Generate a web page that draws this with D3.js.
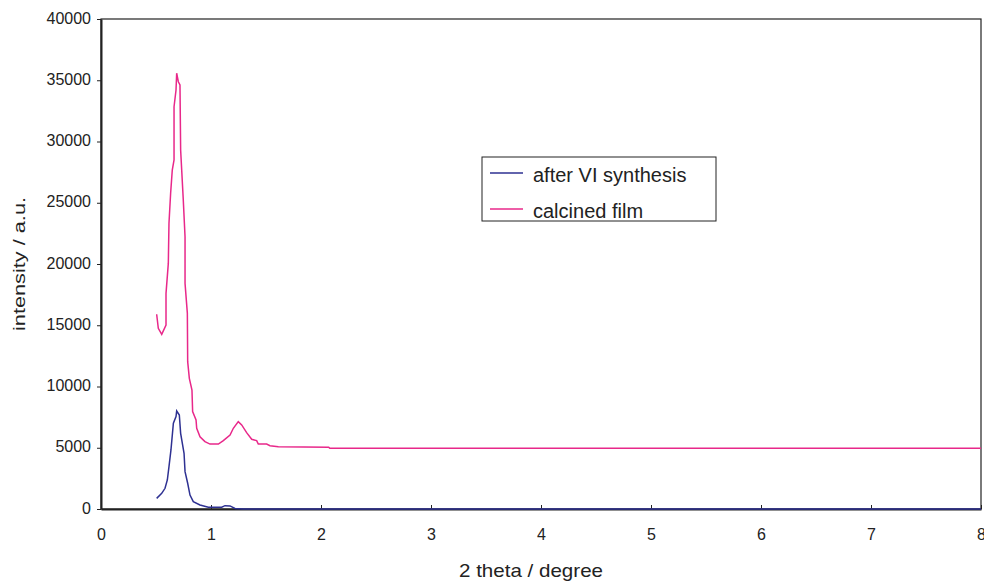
<!DOCTYPE html>
<html>
<head>
<meta charset="utf-8">
<script src="https://cdn.jsdelivr.net/npm/d3@7"></script>
<style>
  body { margin: 0; background: #fff; }
  svg text { font-family: "Liberation Sans", Arial, sans-serif; fill: #222; }
</style>
</head>
<body>
<div class="playground"></div>
<script>
// series (2 theta in degrees, intensity in a.u.)
var afterX = [0.506, 0.552, 0.582, 0.603, 0.618, 0.636, 0.658, 0.682, 0.688, 0.712, 0.724, 0.755, 0.764, 0.788, 0.809, 0.839, 0.9, 0.976, 1.097, 1.127, 1.173, 1.218, 1.3, 8];
var afterY = [870, 1280, 1690, 2370, 3460, 4820, 7000, 7540, 8000, 7670, 6180, 4550, 3050, 2100, 1140, 600, 330, 140, 140, 270, 250, 50, 0, 0];

var calcX = [0.506, 0.521, 0.552, 0.591, 0.591, 0.612, 0.618, 0.633, 0.648, 0.664, 0.664, 0.682, 0.688, 0.703, 0.718, 0.724, 0.748, 0.764, 0.764, 0.785, 0.788, 0.803, 0.827, 0.833, 0.864, 0.870, 0.9, 0.945, 0.991, 1.067, 1.112, 1.173, 1.203, 1.248, 1.279, 1.324, 1.37, 1.415, 1.43, 1.506, 1.536, 1.612, 2.07, 2.08, 8];
var calcY = [15900, 14750, 14260, 15020, 17600, 20050, 23320, 25770, 27670, 28490, 32840, 34200, 35570, 34880, 34610, 29310, 25220, 22230, 18420, 15970, 12030, 10670, 9710, 7950, 7270, 6590, 5900, 5500, 5300, 5300, 5580, 6040, 6590, 7130, 6860, 6230, 5690, 5580, 5300, 5300, 5170, 5090, 5050, 4960, 4960];

var seriesNames = ["after VI synthesis", "calcined film"];
var seriesColors = ["#2e3192", "#e8288a"];
var xTicks = [0, 1, 2, 3, 4, 5, 6, 7, 8];
var yTicks = [0, 5000, 10000, 15000, 20000, 25000, 30000, 35000, 40000];

var width = 984, height = 581;
var mLeft = 101, mRight = 981, mTop = 19, mBottom = 509;

var svg = d3.select('.playground').append('svg')
  .attr('width', width).attr('height', height);

var x = d3.scaleLinear().domain([0, 8]).range([mLeft, mRight]);
var y = d3.scaleLinear().domain([0, 40000]).range([mBottom, mTop]);

// frame
svg.append('rect')
  .attr('x', mLeft).attr('y', mTop)
  .attr('width', mRight - mLeft).attr('height', mBottom - mTop)
  .attr('fill', 'none').attr('stroke', '#222').attr('stroke-width', 1.2);

// axes
var xAxis = svg.append('g')
  .attr('transform', 'translate(0,' + mBottom + ')')
  .call(d3.axisBottom(x).tickValues(xTicks).tickSizeInner(-4).tickSizeOuter(0).tickPadding(20));
var yAxis = svg.append('g')
  .attr('transform', 'translate(' + mLeft + ',0)')
  .call(d3.axisLeft(y).tickValues(yTicks).tickFormat(d3.format('d')).tickSizeInner(4).tickSizeOuter(0).tickPadding(6));

[xAxis, yAxis].forEach(function(g){
  g.select('.domain').attr('stroke', '#222').attr('stroke-width', 2);
  g.selectAll('.tick line').attr('stroke', '#222');
  g.selectAll('.tick text').attr('font-size', 16).style('fill', '#222')
    .attr('font-family', '"Liberation Sans", Arial, sans-serif');
});
yAxis.selectAll('.tick text').attr('dy', '0.25em');

// curves
var line = d3.line().x(function(d){ return x(d[0]); }).y(function(d){ return y(d[1]); });
var series = [d3.zip(afterX, afterY), d3.zip(calcX, calcY)];

svg.selectAll('path.curve')
  .data(series)
  .enter()
  .append('path')
  .attr('class', 'curve')
  .attr('d', line)
  .attr('fill', 'none')
  .attr('stroke', function(d, i){ return seriesColors[i]; })
  .attr('stroke-width', 1.5);

// legend
var legend = svg.append('g').attr('transform', 'translate(482,157)');
legend.append('rect')
  .attr('width', 234).attr('height', 64)
  .attr('fill', '#fff').attr('stroke', '#222').attr('stroke-width', 1);
var items = legend.selectAll('g.item')
  .data(seriesNames)
  .enter()
  .append('g')
  .attr('transform', function(d, i){ return 'translate(0,' + (16 + i * 36) + ')'; });
items.append('line')
  .attr('x1', 8).attr('x2', 41).attr('y1', 0).attr('y2', 0)
  .attr('stroke', function(d, i){ return seriesColors[i]; })
  .attr('stroke-width', 1.5);
items.append('text')
  .attr('x', 51).attr('y', 9)
  .attr('font-size', 20)
  .text(function(d){ return d; });

// axis titles
svg.append('text')
  .attr('x', 531).attr('y', 577)
  .attr('text-anchor', 'middle').attr('font-size', 19)
  .attr('textLength', 144).attr('lengthAdjust', 'spacingAndGlyphs')
  .text('2 theta / degree');
svg.append('text')
  .attr('transform', 'translate(25,264) rotate(-90)')
  .attr('text-anchor', 'middle').attr('font-size', 17)
  .attr('textLength', 134).attr('lengthAdjust', 'spacingAndGlyphs')
  .text('intensity / a.u.');
</script>
</body>
</html>
